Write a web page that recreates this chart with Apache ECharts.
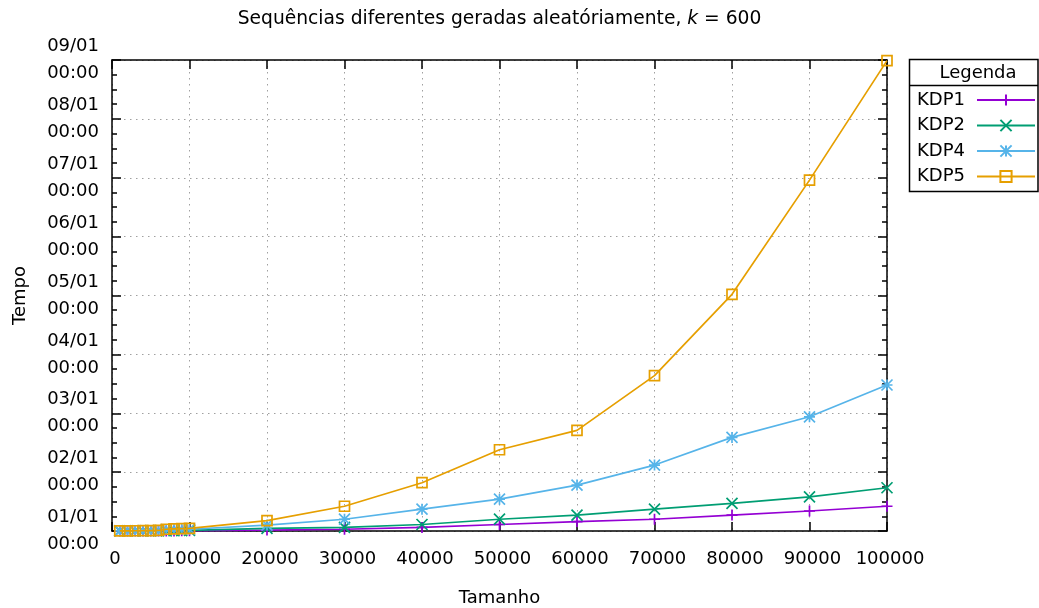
<!DOCTYPE html>
<html>
<head>
<meta charset="utf-8">
<script src="https://cdn.jsdelivr.net/npm/echarts@6/dist/echarts.min.js"></script>
<style>
  html, body { margin: 0; padding: 0; background: #fff; }
  #chart { width: 1039px; height: 608px; }
</style>
</head>
<body>
<div id="chart"></div>
<script>
// Tamanho das sequências (eixo x)
const tamanhos = [1000, 2000, 3000, 4000, 5000, 6000, 7000, 8000, 9000,
  10000, 20000, 30000, 40000, 50000, 60000, 70000, 80000, 90000, 100000];

// Tempo de execução, em dias
const kdp1 = [0.0005, 0.0005, 0.001, 0.001, 0.001, 0.001, 0.002, 0.002, 0.003,
  0.004, 0.015, 0.03, 0.06, 0.11, 0.16, 0.20, 0.27, 0.34, 0.42];
const kdp2 = [0.001, 0.001, 0.001, 0.002, 0.002, 0.002, 0.003, 0.004, 0.005,
  0.01, 0.045, 0.06, 0.11, 0.20, 0.27, 0.37, 0.47, 0.58, 0.735];
const kdp4 = [0.002, 0.002, 0.003, 0.004, 0.005, 0.006, 0.025, 0.027, 0.03,
  0.03, 0.10, 0.20, 0.37, 0.54, 0.78, 1.12, 1.59, 1.94, 2.48];
const kdp5 = [0.002, 0.003, 0.004, 0.005, 0.007, 0.009, 0.03, 0.035, 0.04,
  0.045, 0.175, 0.42, 0.82, 1.38, 1.71, 2.64, 4.02, 5.96, 7.99];

// Rótulos do eixo do tempo (um por dia)
const rotulosTempo = ['01/01\n00:00', '02/01\n00:00', '03/01\n00:00', '04/01\n00:00',
  '05/01\n00:00', '06/01\n00:00', '07/01\n00:00', '08/01\n00:00', '09/01\n00:00'];

const nomes = ['KDP1', 'KDP2', 'KDP4', 'KDP5'];
const cores = ['#9400d3', '#009e73', '#56b4e9', '#e69f00'];
const simbolos = [
  'path://M5,0V10M0,5H10',
  'path://M0,0L10,10M10,0L0,10',
  'path://M5,0V10M0,5H10M0,0L10,10M10,0L0,10',
  'path://M0,0H10V10H0Z'
];
const valores = [kdp1, kdp2, kdp4, kdp5];

const FONTE = 'DejaVu Sans';
const L = 112, R = 887, T = 60, B = 531;

const chart = echarts.init(document.getElementById('chart'), null, { renderer: 'canvas' });

const grade = { show: true, lineStyle: { color: '#a0a0a0', width: 1, type: [1.5, 4.5] } };
const eixoLinha = { show: true, onZero: false, lineStyle: { color: '#000', width: 1.5 } };

const series = nomes.map((nome, i) => ({
  name: nome,
  type: 'line',
  data: tamanhos.map((x, j) => [x, valores[i][j]]),
  symbol: simbolos[i],
  symbolSize: i === 3 ? 10 : 11,
  showSymbol: true,
  showAllSymbol: true,
  clip: false,
  lineStyle: { color: cores[i], width: 1.7 },
  itemStyle: { color: 'rgba(0,0,0,0)', borderColor: cores[i], borderWidth: 1.7 },
  emphasis: { disabled: true },
  z: 2 + i
}));

chart.setOption({
  animation: false,
  backgroundColor: '#fff',
  grid: { left: L, right: 1039 - R, top: T, bottom: 608 - B, containLabel: false },
  xAxis: [
    {
      type: 'value', position: 'bottom', min: 0, max: 100000, interval: 10000,
      axisLine: eixoLinha,
      axisTick: { show: true, inside: true, length: 9, lineStyle: { color: '#000', width: 1.5 } },
      axisLabel: { show: true, margin: 19, color: '#000', fontFamily: FONTE, fontSize: 18,
        padding: [0, 0, 0, 6], formatter: v => String(v) },
      splitLine: grade
    },
    {
      type: 'value', position: 'top', min: 0, max: 100000, interval: 10000,
      axisLine: eixoLinha,
      axisTick: { show: true, inside: true, length: 9, lineStyle: { color: '#000', width: 1.5 } },
      axisLabel: { show: false },
      splitLine: { show: false }
    }
  ],
  yAxis: [
    {
      type: 'value', position: 'left', min: 0, max: 8, interval: 1,
      axisLine: eixoLinha,
      axisTick: { show: true, inside: true, length: 9, lineStyle: { color: '#000', width: 1.5 } },
      minorTick: { show: true, splitNumber: 4, length: 5, lineStyle: { color: '#000', width: 1.5 } },
      axisLabel: { show: true, margin: 13, color: '#000', fontFamily: FONTE, fontSize: 18,
        lineHeight: 27, align: 'right',
        formatter: v => rotulosTempo[Math.round(v)] },
      splitLine: grade
    },
    {
      type: 'value', position: 'right', min: 0, max: 8, interval: 1,
      axisLine: eixoLinha,
      axisTick: { show: true, inside: true, length: 9, lineStyle: { color: '#000', width: 1.5 } },
      minorTick: { show: true, splitNumber: 4, length: 5, lineStyle: { color: '#000', width: 1.5 } },
      axisLabel: { show: false },
      splitLine: { show: false }
    }
  ],
  legend: {
    data: nomes,
    orient: 'vertical',
    right: 3,
    top: 91,
    padding: 0,
    align: 'right',
    itemWidth: 58,
    itemHeight: 14,
    itemGap: 7.5,
    selectedMode: false,
    textStyle: { color: '#000', fontFamily: FONTE, fontSize: 18, lineHeight: 18, padding: [0, 7, 0, 0] }
  },
  graphic: [
    {
      type: 'text', x: (L + R) / 2, y: 19, z: 10,
      style: {
        text: 'Sequências diferentes geradas aleatóriamente, {i|k} = 600',
        fill: '#000', fontFamily: FONTE, fontSize: 18.7, align: 'center', verticalAlign: 'middle',
        rich: { i: { fontStyle: 'italic', fontFamily: FONTE, fontSize: 18.7, fill: '#000' } }
      }
    },
    {
      type: 'text', x: (L + R) / 2, y: 598, z: 10,
      style: { text: 'Tamanho', fill: '#000', fontFamily: FONTE, fontSize: 18,
        align: 'center', verticalAlign: 'middle' }
    },
    {
      type: 'text', x: 20, y: (T + B) / 2, rotation: Math.PI / 2, z: 10,
      style: { text: 'Tempo', fill: '#000', fontFamily: FONTE, fontSize: 18,
        align: 'center', verticalAlign: 'middle' }
    },
    {
      type: 'rect', z: 10,
      shape: { x: 909.5, y: 59.5, width: 128.5, height: 132 },
      style: { fill: 'none', stroke: '#000', lineWidth: 1.5 }
    },
    {
      type: 'line', z: 10,
      shape: { x1: 909.5, y1: 85.5, x2: 1038, y2: 85.5 },
      style: { stroke: '#000', lineWidth: 1.5 }
    },
    {
      type: 'text', x: 978, y: 73, z: 10,
      style: { text: 'Legenda', fill: '#000', fontFamily: FONTE, fontSize: 18,
        align: 'center', verticalAlign: 'middle' }
    }
  ],
  series: series
});
</script>
</body>
</html>
